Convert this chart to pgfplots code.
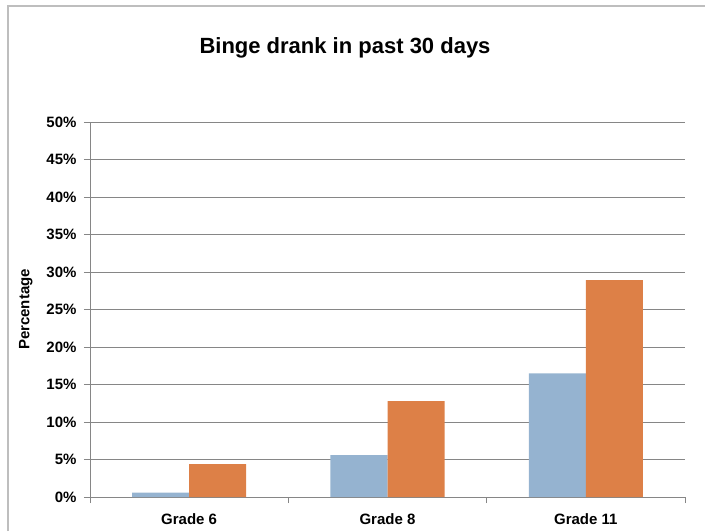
\documentclass[border=0pt]{standalone}
\usepackage{pgfplots}
\pgfplotsset{compat=1.18}
\usepackage{fontspec}
\setmainfont{Liberation Sans}
\definecolor{barblue}{RGB}{149,179,208}
\definecolor{barorange}{RGB}{221,128,71}
\definecolor{gridgray}{RGB}{134,134,134}
\definecolor{framegray}{RGB}{190,190,190}
\begin{document}
\begin{tikzpicture}[x=1pt,y=1pt]
\useasboundingbox (0,0) rectangle (705,531);
\draw[framegray, line width=2pt] (8,0) -- (8,525) -- (706,525);
\node[font=\fontsize{22}{25}\selectfont\bfseries] at (345,483) {Binge drank in past 30 days};
\begin{axis}[
  at={(90pt,34pt)}, anchor=south west,
  scale only axis, width=595pt, height=375pt,
  ybar, bar width=57pt,
  xmin=-0.5, xmax=2.5, ymin=0, ymax=50,
  xtick={0,1,2}, xticklabels={Grade 6,Grade 8,Grade 11},
  major x tick style={draw=none},
  minor xtick={-0.5,0.5,1.5,2.5},
  minor tick length=6pt,
  ytick={0,5,...,50},
  yticklabel={\pgfmathprintnumber{\tick}\%},
  /pgf/number format/assume math mode=true,
  tick align=outside, major tick length=6pt,
  tick style={gridgray, line width=0.8pt},
  axis x line*=bottom, axis y line*=left,
  axis line style={gridgray, line width=0.8pt, -},
  ymajorgrids, grid style={gridgray, line width=0.8pt},
  ticklabel style={font=\fontsize{15}{17}\selectfont\bfseries},
  yticklabel style={xshift=-4pt},
  xticklabel style={yshift=-7pt},
  ylabel={Percentage},
  every axis y label/.style={at={(axis description cs:-0.108,0.5)}, rotate=90, anchor=center, font=\fontsize{15}{17}\selectfont\bfseries},
  clip=false,
]
\addplot[fill=barblue, draw=none, bar shift=-28.5pt] coordinates {(0,0.6) (1,5.6) (2,16.5)};
\addplot[fill=barorange, draw=none, bar shift=28.5pt] coordinates {(0,4.4) (1,12.8) (2,28.9)};
\end{axis}
\end{tikzpicture}
\end{document}
